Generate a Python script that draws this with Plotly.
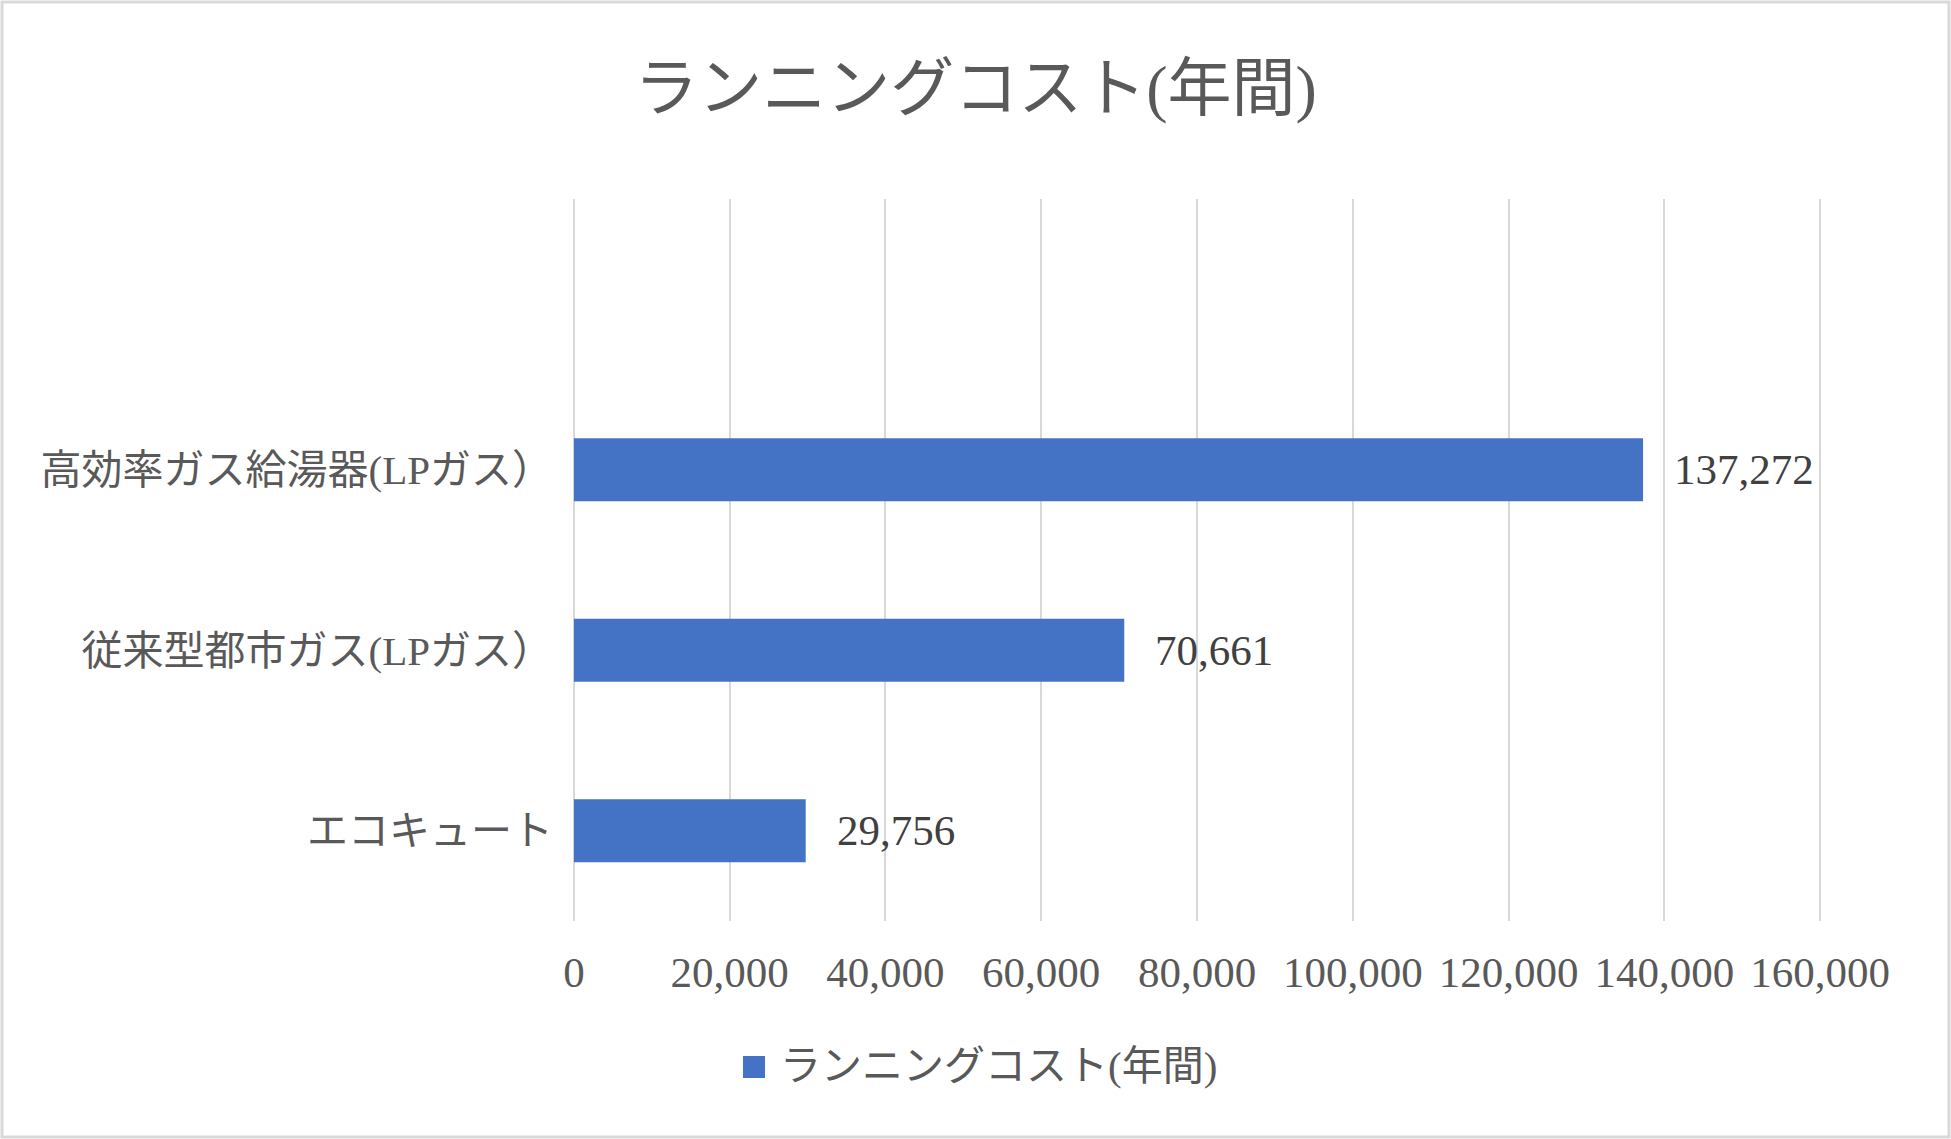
import plotly.graph_objects as go

# --- data ---
categories = ["エコキュート", "従来型都市ガス(LPガス）", "高効率ガス給湯器(LPガス）"]
values = [29756, 70661, 137272]
series_name = "ランニングコスト(年間)"
title_text = "ランニングコスト(年間)"
x_ticks = [0, 20000, 40000, 60000, 80000, 100000, 120000, 140000, 160000]

BAR = "#4472C4"
GRID = "#D9D9D9"
TXT = "#595959"
FONT = "Liberation Serif, Noto Sans CJK JP, serif"

W, H = 1951, 1139
ml, mr, mt, mb = 572, 129, 199, 218
pw, ph = W - ml - mr, H - mt - mb


def px_x(x):
    return (x - ml) / pw


def px_y(y):
    return (mt + ph - y) / ph


fig = go.Figure()

fig.add_trace(go.Bar(
    y=categories, x=values, orientation="h",
    marker=dict(color=BAR, line=dict(width=0)),
    width=0.35, name=series_name, showlegend=False,
    hoverinfo="x+y",
))

# value labels to the right of each bar
for c, v in zip(categories, values):
    fig.add_annotation(
        x=v, y=c, text=f"{v:,}", showarrow=False,
        xanchor="left", yanchor="middle", xshift=29,
        font=dict(family=FONT, size=43, color="#404040"),
    )

# legend drawn by hand (bigger swatch than plotly's own)
fig.add_shape(
    type="rect", xref="paper", yref="paper",
    x0=px_x(743), x1=px_x(765), y0=px_y(1078), y1=px_y(1056),
    fillcolor=BAR, line=dict(width=0),
)
fig.add_annotation(
    x=px_x(778), y=px_y(1066), xref="paper", yref="paper",
    text=series_name, showarrow=False, xanchor="left", yanchor="middle",
    font=dict(family=FONT, size=41, color=TXT),
)

# light grey frame around the whole chart
fig.add_shape(
    type="rect", xref="paper", yref="paper", layer="below",
    x0=px_x(2), x1=px_x(W - 2), y0=px_y(H - 2), y1=px_y(2),
    line=dict(color=GRID, width=3), fillcolor="rgba(0,0,0,0)",
)

fig.update_layout(
    width=W, height=H,
    margin=dict(l=ml, r=mr, t=mt, b=mb, autoexpand=False),
    paper_bgcolor="white", plot_bgcolor="white",
    font=dict(family=FONT, color=TXT),
    title=dict(
        text=title_text, x=0.5, xanchor="center",
        y=1 - 88 / H, yanchor="middle", yref="container",
        font=dict(family=FONT, size=64, color=TXT),
    ),
    xaxis=dict(
        range=[-250, 160250], tickvals=x_ticks, tickformat=",",
        showgrid=True, gridcolor=GRID, gridwidth=2,
        zeroline=False, showline=False, ticks="",
        ticklabelstandoff=22,
        tickfont=dict(family=FONT, size=43, color=TXT),
        fixedrange=True,
    ),
    yaxis=dict(
        type="category", categoryorder="array", categoryarray=categories,
        range=[-0.5, 3.5], showgrid=False, zeroline=False, showline=False,
        ticks="", ticklabelstandoff=18,
        tickfont=dict(family=FONT, size=41, color=TXT),
        fixedrange=True,
    ),
    showlegend=False,
)

fig.write_html(
    "out.html",
    config={"displayModeBar": False},
    post_script="document.body.style.margin='0';",
)
